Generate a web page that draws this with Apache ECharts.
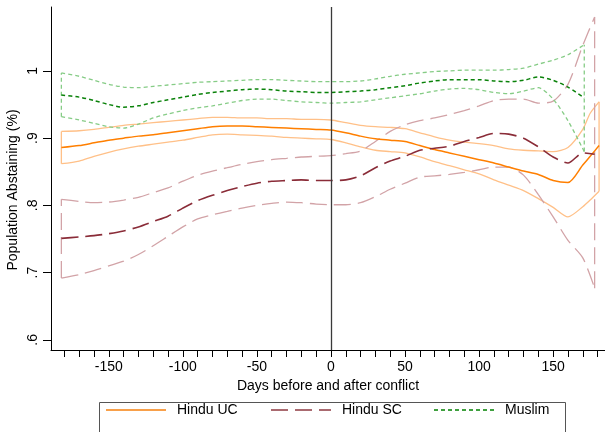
<!DOCTYPE html>
<html>
<head>
<meta charset="utf-8">
<script src="https://cdn.jsdelivr.net/npm/echarts@6/dist/echarts.min.js"></script>
<style>
html,body{margin:0;padding:0;background:#fff;}
#chart{width:605px;height:432px;}
</style>
</head>
<body>
<div id="chart"></div>
<script>
// ---- data ----
const baseDays = [-182,-170,-160,-150,-140,-130,-120,-110,-100,-90,-80,-70,-60,-50,-40,-30,-20,-10,0,10,20,30,40,50,60,70,80,90,100,110,120,130,140,150,160];
const ucDays = baseDays.concat([170,175,181]);
const scDays = baseDays.concat([170,178]);
const muDays = baseDays.concat([171]);

const ucHi   = [0.910,0.911,0.913,0.916,0.919,0.921,0.923,0.925,0.927,0.929,0.931,0.931,0.930,0.930,0.929,0.929,0.928,0.928,0.927,0.923,0.919,0.917,0.916,0.914,0.908,0.902,0.897,0.894,0.892,0.889,0.884,0.882,0.881,0.880,0.886,0.913,0.937,0.954];
const ucMean = [0.886,0.889,0.893,0.897,0.900,0.903,0.905,0.908,0.911,0.914,0.917,0.918,0.918,0.917,0.916,0.915,0.914,0.913,0.912,0.908,0.903,0.899,0.897,0.895,0.889,0.883,0.878,0.873,0.868,0.863,0.857,0.851,0.846,0.837,0.834,0.860,0.873,0.889];
const ucLo   = [0.862,0.866,0.873,0.879,0.884,0.888,0.891,0.894,0.897,0.901,0.905,0.906,0.905,0.904,0.903,0.901,0.900,0.899,0.898,0.893,0.887,0.882,0.880,0.878,0.872,0.865,0.859,0.853,0.847,0.838,0.830,0.822,0.810,0.797,0.783,0.798,0.808,0.821];

const scHi   = [0.809,0.806,0.804,0.805,0.808,0.812,0.819,0.826,0.836,0.845,0.851,0.856,0.861,0.865,0.868,0.870,0.872,0.873,0.874,0.877,0.881,0.895,0.910,0.920,0.926,0.930,0.935,0.941,0.948,0.956,0.958,0.958,0.952,0.955,0.980,1.038,1.080];
const scMean = [0.751,0.753,0.755,0.758,0.762,0.768,0.776,0.784,0.796,0.807,0.815,0.822,0.828,0.833,0.836,0.837,0.838,0.837,0.837,0.838,0.844,0.856,0.866,0.873,0.882,0.885,0.888,0.895,0.901,0.907,0.906,0.900,0.887,0.872,0.863,0.878,0.876];
const scLo   = [0.692,0.697,0.703,0.710,0.717,0.727,0.740,0.754,0.768,0.780,0.786,0.791,0.796,0.800,0.803,0.805,0.804,0.802,0.801,0.801,0.804,0.813,0.824,0.833,0.842,0.844,0.846,0.849,0.853,0.857,0.857,0.845,0.816,0.783,0.748,0.722,0.677];

const muHi   = [0.997,0.992,0.986,0.980,0.976,0.975,0.977,0.979,0.981,0.983,0.984,0.985,0.986,0.987,0.987,0.986,0.985,0.984,0.984,0.984,0.985,0.988,0.992,0.995,0.997,0.999,1.000,1.001,1.001,1.001,1.002,1.004,1.010,1.016,1.024,1.039];
const muMean = [0.964,0.961,0.956,0.950,0.946,0.948,0.953,0.957,0.961,0.965,0.968,0.970,0.972,0.973,0.972,0.970,0.969,0.968,0.968,0.969,0.970,0.972,0.975,0.978,0.982,0.985,0.987,0.987,0.987,0.985,0.984,0.986,0.991,0.986,0.976,0.960];
const muLo   = [0.932,0.927,0.922,0.917,0.915,0.921,0.930,0.936,0.941,0.945,0.948,0.952,0.956,0.958,0.958,0.956,0.954,0.953,0.952,0.953,0.954,0.957,0.960,0.963,0.966,0.970,0.973,0.974,0.972,0.968,0.966,0.970,0.975,0.958,0.926,0.880];

const xTicks = [-180,-170,-160,-150,-140,-130,-120,-110,-100,-90,-80,-70,-60,-50,-40,-30,-20,-10,0,10,20,30,40,50,60,70,80,90,100,110,120,130,140,150,160,170,180];
const xLabels = [-150,-100,-50,0,50,100,150];
const yTicks = [0.6,0.7,0.8,0.9,1.0];
const yTickLabels = ['.6','.7','.8','.9','1'];
const groupNames = ['Hindu UC','Hindu SC','Muslim'];

// ---- styles ----
const FONT = 'Liberation Sans, Arial, sans-serif';
const groups = [
  {name:groupNames[0], days:ucDays, hi:ucHi, mean:ucMean, lo:ucLo, dark:'#ff7f00', light:'#ffc088', legend:'#f8a04a', dash:'solid', w:1.5},
  {name:groupNames[1], days:scDays, hi:scHi, mean:scMean, lo:scLo, dark:'#8a2c38', light:'#d2a3a7', legend:'#aa6a70', dash:[17,7], w:1.6},
  {name:groupNames[2], days:muDays, hi:muHi, mean:muMean, lo:muLo, dark:'#0a820a', light:'#86cc86', legend:'#3fa03f', dash:[4,3], w:1.5}
];

function pairs(xs, ys){ return xs.map((x,i)=>[x, ys[i]]); }

const series = [];
groups.forEach(g => {
  const bandStyle = {color:g.light, width:1.3, type:g.dash};
  series.push({type:'line', name:g.name+' upper', data:pairs(g.days,g.hi), symbol:'none', smooth:0.25, lineStyle:bandStyle, silent:true, z:2});
  series.push({type:'line', name:g.name+' lower', data:pairs(g.days,g.lo), symbol:'none', smooth:0.25, lineStyle:bandStyle, silent:true, z:2});
  const n = g.days.length-1;
  series.push({type:'line', name:g.name+' capL', data:[[g.days[0],g.lo[0]],[g.days[0],g.hi[0]]], symbol:'none', lineStyle:bandStyle, silent:true, z:2});
  series.push({type:'line', name:g.name+' capR', data:[[g.days[n],g.lo[n]],[g.days[n],g.hi[n]]], symbol:'none', lineStyle:bandStyle, silent:true, z:2});
  series.push({type:'line', name:g.name+' mean', data:pairs(g.days,g.mean), symbol:'none', smooth:0.25, lineStyle:{color:g.dark, width:g.w, type:g.dash}, silent:true, z:3});
});
// legend-only series
groups.forEach(g => {
  series.push({type:'line', name:g.name, data:[], symbol:'none', itemStyle:{color:g.legend}, lineStyle:{color:g.legend, width:1.6, type:g.dash}});
});
// zero line
series.push({type:'line', name:'zero', data:[], symbol:'none', silent:true,
  markLine:{silent:true, symbol:['none','none'], label:{show:false}, lineStyle:{color:'#3a3a3a', width:1.3, type:'solid'}, data:[{xAxis:0}]}});

const legendLefts = [105, 270, 433];

const option = {
  animation:false,
  backgroundColor:'#fff',
  grid:{left:51, top:7, right:0, bottom:82, containLabel:false},
  xAxis:{
    type:'value', min:-189, max:185,
    axisLine:{show:true, onZero:false, lineStyle:{color:'#000', width:1}},
    axisTick:{show:true, customValues:xTicks, length:7, lineStyle:{color:'#000', width:1}},
    axisLabel:{show:true, customValues:xLabels, fontSize:14, fontFamily:FONT, color:'#000', margin:10},
    splitLine:{show:false},
    name:'Days before and after conflict', nameLocation:'middle', nameGap:27,
    nameTextStyle:{fontSize:14, fontFamily:FONT, color:'#000'}
  },
  yAxis:{
    type:'value', min:0.585, max:1.095,
    axisLine:{show:true, onZero:false, lineStyle:{color:'#000', width:1}},
    axisTick:{show:true, customValues:yTicks, length:8, lineStyle:{color:'#000', width:1}},
    axisLabel:{show:true, customValues:yTicks, rotate:90, fontSize:14, fontFamily:FONT, color:'#000', margin:11,
      formatter:function(v){ const i = yTicks.findIndex(t=>Math.abs(t-v)<1e-6); return i>=0 ? yTickLabels[i] : ''; }},
    splitLine:{show:false}
  },
  legend: groups.map((g,i)=>({
    data:[g.name], left:legendLefts[i], top:403, padding:0, itemWidth:60, itemHeight:14,
    selectedMode:false,
    itemStyle:{opacity:0, borderWidth:0},
    textStyle:{fontSize:14, fontFamily:FONT, color:'#000', padding:[0,0,0,6]}
  })),
  graphic:[
    {type:'rect', left:97, top:400, shape:{width:466, height:40}, style:{fill:'none', stroke:'#555', lineWidth:1}, silent:true},
    {type:'text', x:13, y:190, rotation:Math.PI/2, style:{text:'Population Abstaining (%)', font:'14px '+FONT, fill:'#000', textAlign:'center', textVerticalAlign:'middle'}, silent:true}
  ],
  series: series
};

const chart = echarts.init(document.getElementById('chart'), null, {renderer:'canvas'});
chart.setOption(option);
</script>
</body>
</html>
